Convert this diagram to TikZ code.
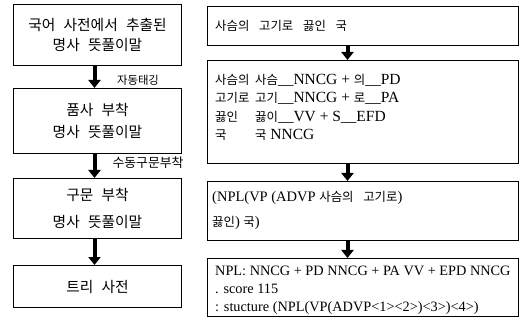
\documentclass[tikz,border=0pt]{standalone}
\usepackage{fontspec}
\setmainfont{Liberation Serif}
\newfontfamily\kr[Scale=0.95,WordSpace=2.5]{Noto Sans CJK KR}
\newfontfamily\krr[WordSpace=3.5]{Noto Sans CJK KR}
\newcommand\KR[1]{{\fontsize{12.4}{18}\selectfont\krr #1}}
\usetikzlibrary{arrows.meta}
\begin{document}
\begin{tikzpicture}[x=1pt,y=-1pt,
  box/.style={draw, line width=1pt, inner sep=0pt},
  bigarrow/.style={line width=4pt, -{Triangle[width=12pt,length=8pt]}},
  lt/.style={font=\fontsize{15.5}{18}\selectfont\kr, align=center},
  rt/.style={anchor=base west, inner sep=0pt, font=\fontsize{15.5}{18}\selectfont},
  ct/.style={anchor=base west, inner sep=0pt, font=\fontsize{14.5}{18}\selectfont},
  dt/.style={anchor=base west, inner sep=0pt, font=\fontsize{14.3}{17}\selectfont},
  lab/.style={inner sep=0pt, font=\kr},
]
\useasboundingbox (0,0) rectangle (521,328);
% left column
\node[box, lt, minimum width=168pt, minimum height=61pt, anchor=north west] (b1) at (13,4)
  {국어 사전에서 추출된\\[2pt]명사 뜻풀이말};
\node[box, lt, minimum width=168pt, minimum height=65pt, anchor=north west] (b2) at (13,88)
  {품사 부착\\[4pt]명사 뜻풀이말};
\node[box, lt, minimum width=168pt, minimum height=60pt, anchor=north west] (b3) at (13,178)
  {구문 부착\\[9pt]명사 뜻풀이말};
\node[box, lt, minimum width=168pt, minimum height=42pt, anchor=north west] (b4) at (13,265)
  {트리 사전};
\draw[bigarrow] ([xshift=-3pt]b1.south) -- ([xshift=-3pt]b2.north);
\draw[bigarrow] ([xshift=-3pt]b2.south) -- ([xshift=-3pt]b3.north);
\draw[bigarrow] ([xshift=-3pt]b3.south) -- ([xshift=-3pt]b4.north);
\node[lab, font=\fontsize{12}{14}\selectfont\kr] (l1) at (138,80) {자동태깅};
\node[lab, font=\fontsize{13.5}{16}\selectfont\kr] (l2) at (148,163) {수동구문부착};
% right column
\node[box, minimum width=311pt, minimum height=39pt, anchor=north west] (ra) at (207,6) {};
\node[box, minimum width=311pt, minimum height=103pt, anchor=north west] (rb) at (207,60) {};
\node[box, minimum width=311pt, minimum height=59pt, anchor=north west] (rc) at (207,181) {};
\node[box, minimum width=311pt, minimum height=58pt, anchor=north west] (rd) at (207,258) {};
\draw[bigarrow] ([xshift=-15.5pt]ra.south) -- ([xshift=-15.5pt]rb.north);
\draw[bigarrow] ([xshift=-15.5pt]rb.south) -- ([xshift=-15.5pt]rc.north);
\draw[bigarrow] ([xshift=-15.5pt]rc.south) -- ([xshift=-15.5pt]rd.north);
% box A
\node[rt] (ta) at (215,31) {\KR{사슴의 고기로 끓인 국}};
% box B
\node[rt] (tb1a) at (215,85) {\KR{사슴의}};
\node[rt] (tb1b) at (255,85) {\KR{사슴}\_\_NNCG + \KR{의}\_\_PD};
\node[rt] (tb2a) at (215,103) {\KR{고기로}};
\node[rt] (tb2b) at (255,103) {\KR{고기}\_\_NNCG + \KR{로}\_\_PA};
\node[rt] (tb3a) at (215,122) {\KR{끓인}};
\node[rt] (tb3b) at (255,122) {\KR{끓이}\_\_VV + S\_\_EFD};
\node[rt] (tb4a) at (215,140) {\KR{국}};
\node[rt] (tb4b) at (255,140) {\KR{국} NNCG};
% box C
\node[ct] (tc1) at (212,202) {(NPL(VP (ADVP \KR{사슴의 고기로})};
\node[ct] (tc2) at (212,227) {\KR{끓인}) \KR{국})};
% box D
\node[dt] (td1) at (215,275) {NPL: NNCG + PD NNCG + PA VV + EPD NNCG};
\node[dt] (td2) at (215,293) {. score 115};
\node[dt] (td3) at (215,311) {: stucture (NPL(VP(ADVP<1><2>)<3>)<4>)};
\end{tikzpicture}
\end{document}
